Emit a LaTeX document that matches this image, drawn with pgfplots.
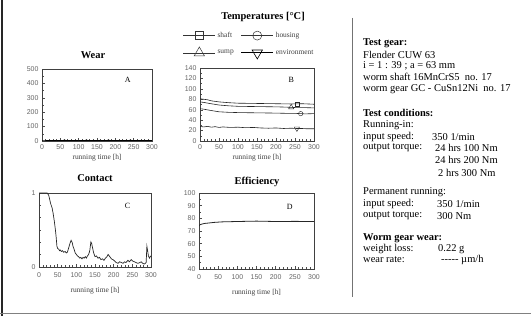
\documentclass[border=0pt]{standalone}
\usepackage{fontspec}
\setmainfont{Liberation Serif}
\setsansfont{Liberation Sans}
\usepackage{pgfplots}
\pgfplotsset{compat=1.18}
\pgfplotsset{
  panel/.style={
    scale only axis,
    xmin=0, xmax=300,
    xtick={0,50,...,300},
    minor x tick num=4,
    tick align=inside,
    xtick pos=left, ytick pos=left,
    axis line style={line width=0.6pt, black!75},
    major tick length=2.5bp, minor tick length=1.5bp,
    every tick/.style={black!70, line width=0.4pt},
    /pgf/number format/assume math mode=true,
    tick label style={font=\sffamily\fontsize{7}{8}\selectfont, text=black!60},
    xticklabel style={yshift=-0.5bp},
    xlabel={running time [h]},
    xlabel style={font=\fontsize{7.5}{8}\selectfont, text=black!75, anchor=center},
    every axis plot/.append style={line width=0.6pt, black!85},
  }
}
\begin{document}
\begin{tikzpicture}
\useasboundingbox (0,0) rectangle (531bp,316bp);
\fill[white] (0,0) rectangle (531bp,316bp);
% frame
\draw[line width=2bp, black!85] (2bp,0) -- (2bp,316bp);
\draw[line width=1.5bp, black!50] (0,2.5bp) -- (531bp,2.5bp);
\draw[line width=1.2bp, black!55] (352.5bp,298bp) -- (352.5bp,19bp);

% ---------- A: Wear
\begin{axis}[panel, at={(42bp,175bp)}, anchor=south west,
  width=110bp, height=72bp,
  ymin=0, ymax=500, ytick={0,100,...,500}, minor y tick num=1,
  xlabel style={at={(axis description cs:0.5,-0.236)}}]
\addplot[line width=1.2pt, black] coordinates {
(0,0)(20,2)(40,1)(60,3)(80,2)(100,1)(120,3)(140,2)(160,1)(180,3)(200,2)(220,1)(240,3)(260,2)(280,1)(300,2)};
\node[font=\fontsize{8}{9}\selectfont] at (axis description cs:0.78,0.85) {A};
\end{axis}

% ---------- B: Temperatures
\begin{axis}[panel, at={(200bp,175bp)}, anchor=south west,
  width=114bp, height=73bp,
  ymin=0, ymax=140, ytick={0,20,...,140}, minor y tick num=1,
  xlabel style={at={(axis description cs:0.5,-0.233)}},
  legend columns=2,
  legend cell align=left,
  legend style={at={(axis description cs:-0.15,1.52)}, anchor=north west,
    draw=none, fill=none, inner sep=0pt,
    font=\fontsize{7.5}{8}\selectfont, text=black!75,
    row sep=6bp,
    /tikz/every even column/.append style={column sep=5bp}},
  legend image code/.code={\draw[mark repeat=2,mark phase=2,#1] plot coordinates {(0bp,0bp)(16bp,0bp)(32bp,0bp)};}]
\addlegendimage{black!80, line width=0.5pt, mark=square, mark size=4bp, mark options={solid, fill=white}}
\addlegendentry{shaft}
\addlegendimage{black!80, line width=0.5pt, mark=o, mark size=4.5bp, mark options={solid, fill=white}}
\addlegendentry{housing}
\addlegendimage{black!80, line width=0.5pt, mark=triangle, mark size=6bp, mark options={solid, fill=white}}
\addlegendentry{sump}
\addlegendimage{black, line width=1pt, mark=triangle, mark size=6bp, mark options={solid, fill=white, rotate=180, line width=0.6pt}}
\addlegendentry{environment}
% shaft
\addplot[forget plot, mark=square, mark size=2bp, mark indices={11}, mark options={fill=white, line width=0.4pt}] coordinates {
(0,81)(10,80)(20,79)(30,77)(50,75)(75,73.5)(100,72.5)(150,72)(200,71.5)(240,71)(255,71.2)(268,71.5)(285,71)(300,70.5)};
% sump
\addplot[forget plot, mark=triangle, mark size=3bp, mark indices={10}, mark options={fill=white, line width=0.4pt}] coordinates {
(0,75)(10,74)(25,72)(50,69)(75,67.5)(100,66.5)(150,66)(200,65.5)(225,65)(240,64.5)(254,64)(275,64)(300,63.5)};
% housing
\addplot[forget plot, mark=o, mark size=2.2bp, mark indices={11}, mark options={fill=white, line width=0.4pt}] coordinates {
(0,62)(10,61)(25,59)(50,56)(75,55)(100,54.5)(150,54)(200,53.5)(230,53)(250,53)(265,52.5)(276,52)(300,52.5)};
% environment
\addplot[forget plot, mark=triangle, mark size=3bp, mark indices={17}, mark options={fill=white, rotate=180, line width=0.4pt}] coordinates {
(0,28)(10,27)(20,28)(30,26.5)(40,27.5)(50,26)(60,27)(80,26)(100,26.5)(120,25.5)(140,26)(160,25)(180,24.5)(200,25)(220,24)(240,24.5)(255,24)(268,24)(280,23.5)(300,23.5)};
\node[font=\fontsize{8}{9}\selectfont] at (axis description cs:0.8,0.84) {B};
\end{axis}

% ---------- C: Contact
\begin{axis}[panel, at={(39bp,49bp)}, anchor=south west,
  width=112bp, height=74bp,
  ymin=0, ymax=1, ytick={0,1}, minor y tick num=5,
  xlabel style={at={(axis description cs:0.5,-0.324)}},
  xticklabel style={yshift=-2bp}]
\addplot[line width=0.7pt] coordinates {
(0,1)(10,1)(22,1)(26,0.97)(31,0.86)(35,0.8)(38,0.72)(41,0.62)(44,0.5)(46,0.4)(48,0.28)(50,0.25)(53,0.24)(55,0.22)(57,0.23)(60,0.21)(63,0.22)(66,0.2)(70,0.21)(73,0.19)(76,0.2)(79,0.25)(83,0.32)(86,0.36)(89,0.33)(91,0.28)(94,0.24)(97,0.19)(100,0.17)(103,0.15)(106,0.14)(109,0.12)(112,0.13)(115,0.11)(118,0.13)(121,0.12)(124,0.14)(127,0.12)(130,0.15)(133,0.17)(136,0.22)(139,0.34)(141,0.32)(143,0.27)(146,0.2)(150,0.14)(154,0.15)(158,0.12)(162,0.13)(166,0.1)(170,0.11)(174,0.09)(178,0.12)(182,0.14)(185,0.17)(188,0.15)(191,0.13)(194,0.11)(198,0.1)(203,0.08)(207,0.06)(212,0.05)(216,0.07)(221,0.06)(225,0.05)(229,0.07)(233,0.06)(238,0.09)(242,0.07)(247,0.1)(251,0.08)(256,0.07)(260,0.06)(265,0.05)(270,0.06)(274,0.07)(278,0.05)(282,0.04)(285,0.05)(287,0.06)(289,0.28)(291,0.22)(293,0.15)(296,0.12)(298,0.14)(300,0.15)};
\node[font=\fontsize{8}{9}\selectfont] at (axis description cs:0.79,0.82) {C};
\end{axis}

% ---------- D: Efficiency
\begin{axis}[panel, at={(199bp,47bp)}, anchor=south west,
  width=115bp, height=76bp,
  ymin=40, ymax=100, ytick={40,50,...,100}, minor y tick num=1,
  xlabel style={at={(axis description cs:0.5,-0.316)}},
  xticklabel style={yshift=-2bp}]
\addplot[line width=0.8pt] coordinates {
(0,74)(3,75)(8,75.5)(15,76)(25,76.3)(40,76.8)(60,77.2)(100,77.5)(150,77.8)(200,77.5)(250,77.6)(300,77.5)};
\node[font=\fontsize{8}{9}\selectfont] at (axis description cs:0.79,0.82) {D};
\end{axis}

% titles
\begin{scope}[every node/.style={font=\bfseries\fontsize{10.5}{12}\selectfont, inner sep=0pt}]
\node at (93bp,261bp) {Wear};
\node at (263bp,299bp) {Temperatures [°C]};
\node at (95bp,138bp) {Contact};
\node at (257bp,134bp) {Efficiency};
\end{scope}

% right text
\begin{scope}[every node/.style={font=\fontsize{10.5}{12}\selectfont, inner sep=0pt, anchor=west}]
\node at (363bp,273bp) {\bfseries Test gear:};
\node at (363bp,261bp) {Flender CUW 63};
\node at (363bp,250bp) {i = 1 : 39 ; a = 63 mm};
\node at (363bp,239bp) {worm shaft 16MnCrS5 \ no. 17};
\node at (363bp,227bp) {worm gear GC - CuSn12Ni \ no. 17};
\node at (363bp,203bp) {\bfseries Test conditions:};
\node at (363bp,191bp) {Running-in:};
\node at (363bp,179bp) {input speed:};
\node at (432bp,179bp) {350 1/min};
\node at (363bp,168bp) {output torque:};
\node at (435bp,168bp) {24 hrs 100 Nm};
\node at (435bp,156bp) {24 hrs 200 Nm};
\node at (438bp,143bp) {2 hrs 300 Nm};
\node at (363bp,124bp) {Permanent running:};
\node at (363bp,112bp) {input speed:};
\node at (437bp,112bp) {350 1/min};
\node at (363bp,100bp) {output torque:};
\node at (437bp,100bp) {300 Nm};
\node at (363bp,78bp) {\bfseries Worm gear wear:};
\node at (363bp,67bp) {weight loss:};
\node at (438bp,67bp) {0.22 g};
\node at (363bp,56bp) {wear rate:};
\node at (441bp,56bp) {-{}-{}-{}-{}- µm/h};
\end{scope}
\end{tikzpicture}
\end{document}
